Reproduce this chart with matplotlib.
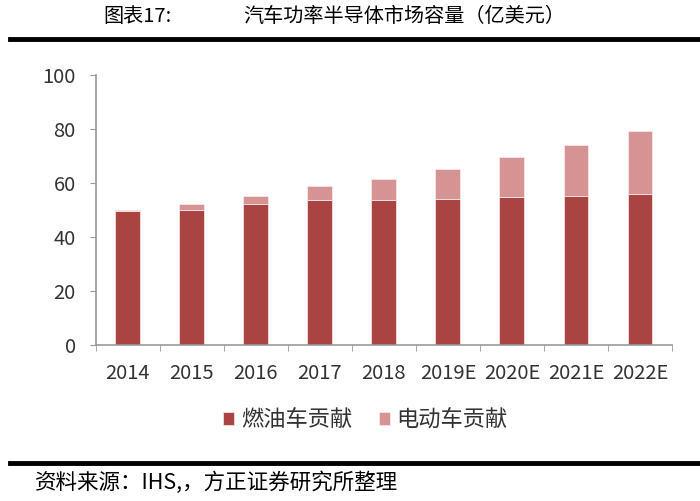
import numpy as np
import matplotlib
matplotlib.use('Agg')
import matplotlib.pyplot as plt
from matplotlib.ticker import FixedLocator

plt.rcParams['font.family'] = ['Noto Sans CJK SC', 'DejaVu Sans']

years = ['2014', '2015', '2016', '2017', '2018', '2019E', '2020E', '2021E', '2022E']
fuel = [49.6, 50.2, 52.1, 53.9, 53.9, 54.2, 54.7, 55.4, 55.9]
ev = [0.6, 2.0, 3.3, 5.1, 7.5, 11.0, 14.9, 18.8, 23.5]

dark = '#A94442'
light = '#D59493'

fig = plt.figure(figsize=(7, 5.01), dpi=100)
ax = fig.add_axes([0.137, 0.311, 0.823, 0.539])

x = np.arange(len(years))
ax.bar(x, fuel, width=0.39, color=dark, edgecolor='#f3dede', linewidth=0.6, label='燃油车贡献')
ax.bar(x, ev, width=0.39, bottom=fuel, color=light, edgecolor='#f7e6e6', linewidth=0.6, label='电动车贡献')

ax.set_xlim(-0.5, len(years) - 0.5)
ax.set_ylim(0, 100)
ax.set_yticks(range(0, 101, 20))
ax.set_xticks(x)
ax.set_xticklabels(years)
ax.xaxis.set_minor_locator(FixedLocator(np.arange(-0.5, len(years), 1.0)))
ax.tick_params(axis='x', which='major', length=0, labelsize=14.5, pad=13, colors='#333333')
ax.tick_params(axis='x', which='minor', length=4.5, color='#999999')
ax.tick_params(axis='y', length=4.5, labelsize=14.5, color='#999999', pad=10, labelcolor='#333333')

for s in ['top', 'right']:
    ax.spines[s].set_visible(False)
for s in ['left', 'bottom']:
    ax.spines[s].set_color('#999999')
    ax.spines[s].set_linewidth(1.2)

leg = fig.legend(loc='center', bbox_to_anchor=(0.522, 0.162), ncol=2, frameon=False,
                 fontsize=16, handlelength=0.5, handleheight=0.5, columnspacing=1.2,
                 handletextpad=0.3)
for t in leg.get_texts():
    t.set_color('#333333')

fig.text(0.147, 0.968, '图表17:', fontsize=14.5, ha='left', va='center')
fig.text(0.347, 0.968, '汽车功率半导体市场容量（亿美元）', fontsize=14.5, ha='left', va='center')
fig.add_artist(plt.Line2D([0.014, 1.0], [0.922, 0.922], color='black', linewidth=3.5))
fig.add_artist(plt.Line2D([0.014, 1.0], [0.076, 0.076], color='black', linewidth=3.5))
fig.text(0.05, 0.036, '资料来源：IHS,，方正证券研究所整理', fontsize=15.5, ha='left', va='center',
         style='italic')

fig.savefig('out.png', dpi=100)
